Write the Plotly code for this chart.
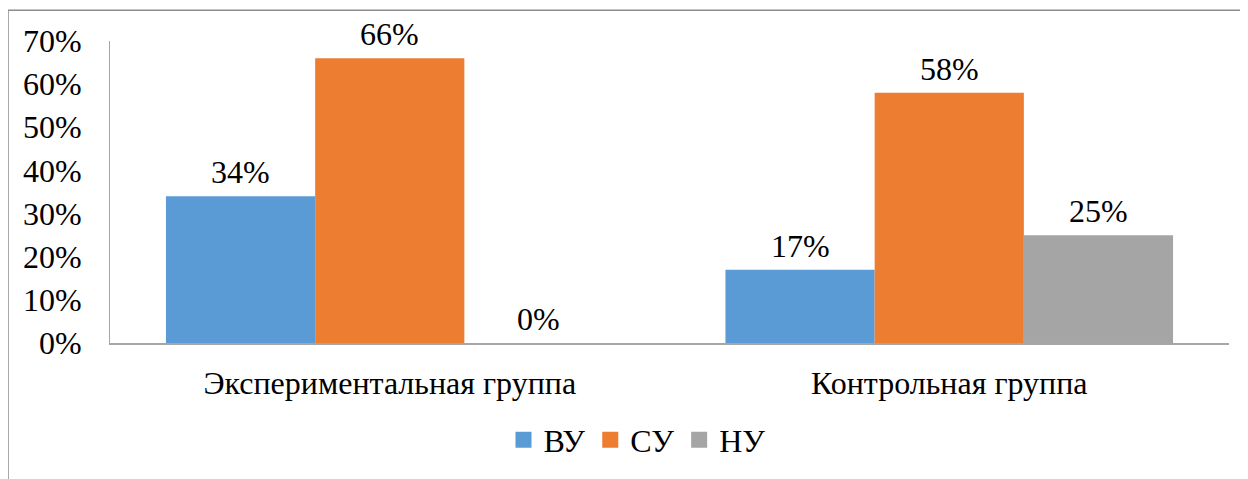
import plotly.graph_objects as go

categories = ["Экспериментальная группа", "Контрольная группа"]
series_names = ["ВУ", "СУ", "НУ"]
vu = [0.34, 0.17]
su = [0.66, 0.58]
nu = [0.00, 0.25]
colors = ["#5B9BD5", "#ED7D31", "#A5A5A5"]
tick_vals = [0, 0.1, 0.2, 0.3, 0.4, 0.5, 0.6, 0.7]
tick_text = ["0%", "10%", "20%", "30%", "40%", "50%", "60%", "70%"]

FONT = "Liberation Serif, Times New Roman, serif"
FS = 32
OFF = 8  # page body margin
W, H = 1248 - OFF, 479 - OFF
L, R, T, B = 110 - OFF, 19, 41 - OFF, 479 - 346
pw, ph = W - L - R, H - T - B
def px(x):
    return (x - OFF - L) / pw
def py(y):
    return (H - B - (y - OFF)) / ph

bargap = 0.2
bar_px = (1 - bargap) * pw / len(categories) / len(series_names)

fig = go.Figure()
annotations = []
for i, (name, vals, col) in enumerate(zip(series_names, [vu, su, nu], colors)):
    fig.add_trace(go.Bar(
        name=name, x=categories, y=vals, marker=dict(color=col, line=dict(width=0)),
        showlegend=False, cliponaxis=False,
    ))
    fig.add_trace(go.Scatter(
        name=name, x=[None], y=[None], mode="markers",
        marker=dict(symbol="square", size=16, color=col), showlegend=True,
    ))
    for c, v in zip(categories, vals):
        annotations.append(dict(
            x=c, y=v, xref="x", yref="y", text=f"{round(v*100)}%", showarrow=False,
            xshift=(i - 1) * bar_px, yshift=4, yanchor="bottom",
            font=dict(family=FONT, size=FS, color="#000000"),
        ))

fig.update_layout(
    width=W, height=H, barmode="group", bargap=bargap, bargroupgap=0,
    margin=dict(l=L, r=R, t=T, b=B), paper_bgcolor="white", plot_bgcolor="white",
    font=dict(family=FONT, size=FS, color="#000000"),
    showlegend=True,
    legend=dict(orientation="h", x=px(637), xanchor="center", y=py(444), yanchor="middle",
                font=dict(family=FONT, size=FS), itemwidth=30, traceorder="normal"),
    annotations=annotations,
    shapes=[
        dict(type="line", xref="paper", yref="paper", x0=px(8), x1=px(1300), y0=py(10), y1=py(10),
             line=dict(color="#8C8C8C", width=1.5)),
        dict(type="line", xref="paper", yref="paper", x0=px(8), x1=px(8), y0=py(10), y1=py(500),
             line=dict(color="#8C8C8C", width=1.5)),
    ],
)
fig.update_yaxes(range=[0, 0.7], tickvals=tick_vals, ticktext=tick_text, showgrid=False,
                 showline=True, linecolor="#A6A6A6", linewidth=1, zeroline=False,
                 ticks="", ticklabelstandoff=21, tickfont=dict(family=FONT, size=FS))
fig.update_xaxes(showline=True, linecolor="#A6A6A6", linewidth=2, ticks="",
                 ticklabelstandoff=11, tickfont=dict(family=FONT, size=FS))
fig.write_html("out.html")
